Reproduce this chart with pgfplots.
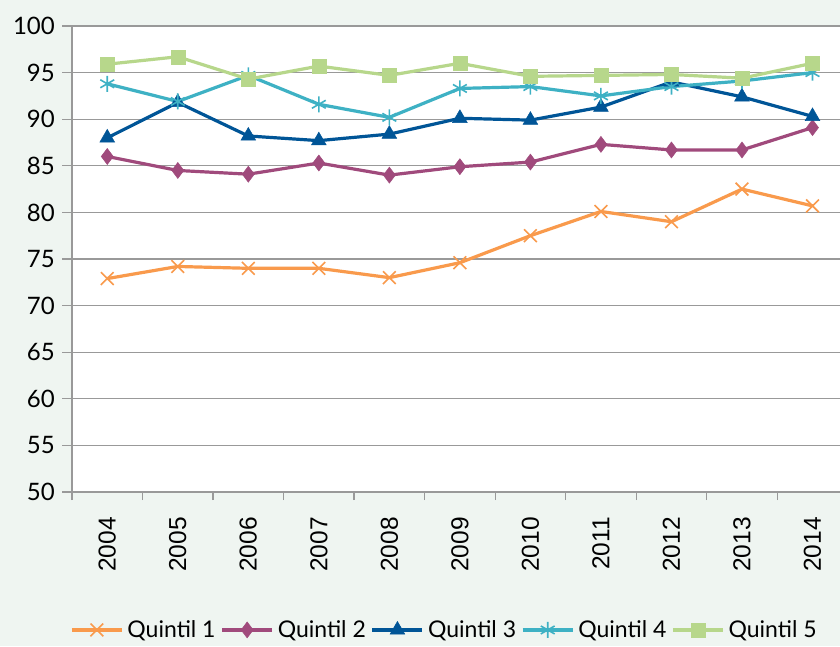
\documentclass[border=0pt]{standalone}
\usepackage{fontspec}
\setmainfont{Lato}
\newfontfamily\arial{Liberation Sans}
\usepackage{pgfplots}
\pgfplotsset{compat=1.18}
\definecolor{bgc}{HTML}{EFF5F1}
\definecolor{qa}{HTML}{F99A4C}
\definecolor{qb}{HTML}{A04A7C}
\definecolor{qc}{HTML}{005597}
\definecolor{qd}{HTML}{3EB1C4}
\definecolor{qe}{HTML}{B7D78B}
\definecolor{gridc}{HTML}{999999}
\begin{document}
\begin{tikzpicture}[x=1pt,y=1pt]
\fill[bgc] (0,0) rectangle (840,646);
\useasboundingbox (0,0) rectangle (840,646);
\begin{axis}[
  at={(72pt,154pt)}, anchor=south west,
  scale only axis, width=768pt, height=466pt,
  xmin=-0.5, xmax=10.39, ymin=50, ymax=100,
  axis x line*=bottom, axis y line*=left,
  axis line style={gridc, line width=1.2pt, -},
  axis background/.style={fill=white},
  xtick={0,...,10},
  xticklabels={2004,2005,2006,2007,2008,2009,2010,2011,2012,2013,2014},
  major x tick style={draw=none},
  minor xtick={-0.5,0.5,...,9.5},
  minor tick length=8pt,
  tick align=outside,
  xticklabel style={rotate=90, anchor=east, font=\arial\fontsize{24.5}{26}\selectfont, inner sep=0pt, xshift=-15pt},
  ytick={50,55,...,100},
  major tick length=10pt,
  tick style={gridc, line width=1.2pt},
  ymajorgrids, grid style={gridc, line width=1.2pt},
  yticklabel style={font=\fontsize{24}{26}\selectfont, inner sep=0pt, xshift=-7pt},
  /pgf/number format/assume math mode=true,
  legend columns=5,
  legend style={at={(0.485,-0.296)}, anchor=center, draw=none, fill=none,
    font=\fontsize{23}{25}\selectfont, inner sep=0pt,
    /tikz/every odd column/.append style={column sep=2pt},
    /tikz/every even column/.append style={column sep=3pt}},
  legend image code/.code={\draw[mark repeat=2,mark phase=2] plot coordinates {(0pt,0pt)(25pt,0pt)(50pt,0pt)};},
  every axis plot/.append style={line width=3.2pt},
  clip=false,
]
\addplot[qa, mark=x, mark size=9pt, mark options={line width=1.6pt}] coordinates {(0,72.9)(1,74.2)(2,74.0)(3,74.0)(4,73.0)(5,74.6)(6,77.5)(7,80.1)(8,79.0)(9,82.5)(10,80.7)};
\addlegendentry{Quintil 1}
\addplot[qb, mark=diamond*, mark size=8pt, mark options={line width=0.5pt}] coordinates {(0,86.0)(1,84.5)(2,84.1)(3,85.3)(4,84.0)(5,84.9)(6,85.4)(7,87.3)(8,86.7)(9,86.7)(10,89.1)};
\addlegendentry{Quintil 2}
\addplot[qc, mark=triangle*, mark size=8.5pt, mark options={line width=0.5pt}] coordinates {(0,88.0)(1,91.8)(2,88.2)(3,87.7)(4,88.4)(5,90.1)(6,89.9)(7,91.3)(8,94.0)(9,92.4)(10,90.3)};
\addlegendentry{Quintil 3}
\addplot[qd, mark=asterisk, mark size=8pt, mark options={line width=1.6pt}] coordinates {(0,93.8)(1,91.9)(2,94.7)(3,91.6)(4,90.2)(5,93.3)(6,93.5)(7,92.5)(8,93.5)(9,94.1)(10,95.0)};
\addlegendentry{Quintil 4}
\addplot[qe, mark=square*, mark size=7pt, mark options={line width=0.5pt}] coordinates {(0,95.9)(1,96.7)(2,94.3)(3,95.7)(4,94.7)(5,96.0)(6,94.6)(7,94.7)(8,94.8)(9,94.4)(10,96.0)};
\addlegendentry{Quintil 5}
\end{axis}
\end{tikzpicture}
\end{document}
